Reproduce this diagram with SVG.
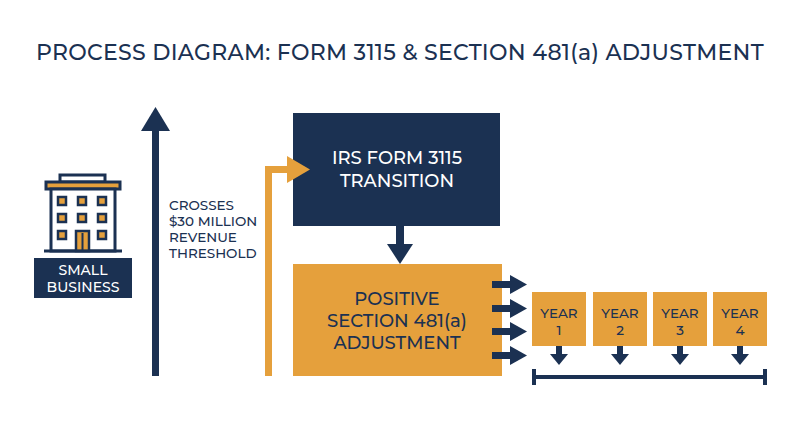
<svg xmlns="http://www.w3.org/2000/svg" width="800" height="447" viewBox="0 0 800 447">
<style>
text{font-family:"Montserrat","Liberation Sans",Arial,sans-serif;font-weight:500}
.n{fill:#1b3152}.o{fill:#e5a03c}
.t{fill:#1b3152;font-size:13.5px}
.w{fill:#fff}
</style>
<rect width="800" height="447" fill="#fff"/>
<text x="400" y="60" text-anchor="middle" font-size="22" class="n" letter-spacing="0.3">PROCESS DIAGRAM: FORM 3115 &amp; SECTION 481(a) ADJUSTMENT</text>

<g id="small-business">
<rect x="60" y="175" width="45" height="7" fill="#fff" stroke="#1b3152" stroke-width="3"/>
<rect x="46" y="182" width="74" height="7" class="o" stroke="#1b3152" stroke-width="3"/>
<rect x="51" y="189" width="64" height="62" fill="#fff" stroke="#1b3152" stroke-width="3"/>
<g class="o" stroke="#1b3152" stroke-width="2.5">
<rect x="58" y="197" width="8" height="8"/><rect x="78" y="197" width="8" height="8"/><rect x="98" y="197" width="8" height="8"/>
<rect x="58" y="214" width="8" height="8"/><rect x="78" y="214" width="8" height="8"/><rect x="98" y="214" width="8" height="8"/>
<rect x="58" y="231" width="8" height="8"/><rect x="98" y="231" width="8" height="8"/>
<rect x="76" y="231" width="13" height="20"/>
</g>
<line x1="82.5" y1="233" x2="82.5" y2="251" stroke="#1b3152" stroke-width="2"/>
<line x1="44" y1="251" x2="122" y2="251" stroke="#1b3152" stroke-width="3"/>
<rect x="34" y="258" width="98" height="40" class="n"/>
<text x="83" y="275" text-anchor="middle" font-size="14" class="w">SMALL</text>
<text x="83" y="292" text-anchor="middle" font-size="14" class="w">BUSINESS</text>
</g>

<g id="threshold-label">
<text x="169" y="210" class="t">CROSSES</text>
<text x="169" y="226" class="t">$30 MILLION</text>
<text x="169" y="242" class="t">REVENUE</text>
<text x="169" y="258" class="t">THRESHOLD</text>
</g>

<g id="irs-form">
<rect x="293" y="113" width="207" height="113" class="n"/>
<text x="397" y="164" text-anchor="middle" font-size="18" class="w">IRS FORM 3115</text>
<text x="397" y="187" text-anchor="middle" font-size="18" class="w">TRANSITION</text>
</g>

<g id="adjustment">
<rect x="293" y="264" width="209" height="112" class="o"/>
<text x="397" y="305" text-anchor="middle" font-size="18" class="n">POSITIVE</text>
<text x="397" y="327" text-anchor="middle" font-size="18" class="n">SECTION 481(a)</text>
<text x="397" y="349" text-anchor="middle" font-size="18" class="n">ADJUSTMENT</text>
</g>

<g id="years">
<rect x="532" y="292" width="54" height="54" class="o"/>
<rect x="593" y="292" width="54" height="54" class="o"/>
<rect x="653" y="292" width="54" height="54" class="o"/>
<rect x="713" y="292" width="54" height="54" class="o"/>
<g text-anchor="middle" class="t">
<text x="559" y="318">YEAR</text><text x="559" y="335">1</text>
<text x="620" y="318">YEAR</text><text x="620" y="335">2</text>
<text x="680" y="318">YEAR</text><text x="680" y="335">3</text>
<text x="740" y="318">YEAR</text><text x="740" y="335">4</text>
</g>
</g>

<g id="connectors">
<rect x="152" y="128" width="7" height="248" class="n"/>
<path d="M141,131L155.5,107L170,131z" class="n"/>
<path d="M265,376V166H290V173H272V376z" class="o"/>
<path d="M287,156L310,169.5L287,183z" class="o"/>
<rect x="396" y="226" width="8" height="20" class="n"/>
<path d="M387,244L413,244L400,264z" class="n"/>
<g class="n">
<rect x="492" y="281" width="20" height="7"/><path d="M510,275L527,284.5L510,294z"/>
<rect x="492" y="305" width="20" height="7"/><path d="M510,299L527,308.5L510,318z"/>
<rect x="492" y="328" width="20" height="7"/><path d="M510,322L527,331.5L510,341z"/>
<rect x="492" y="352" width="20" height="7"/><path d="M510,346L527,355.5L510,365z"/>
<rect x="556" y="346" width="6" height="9"/><path d="M550,354L568,354L559,365z"/>
<rect x="617" y="346" width="6" height="9"/><path d="M611,354L629,354L620,365z"/>
<rect x="677" y="346" width="6" height="9"/><path d="M671,354L689,354L680,365z"/>
<rect x="737" y="346" width="6" height="9"/><path d="M731,354L749,354L740,365z"/>
<rect x="533" y="375" width="233" height="4"/>
<rect x="532" y="369" width="4" height="16"/>
<rect x="763" y="369" width="4" height="16"/>
</g>
</g>
</svg>
